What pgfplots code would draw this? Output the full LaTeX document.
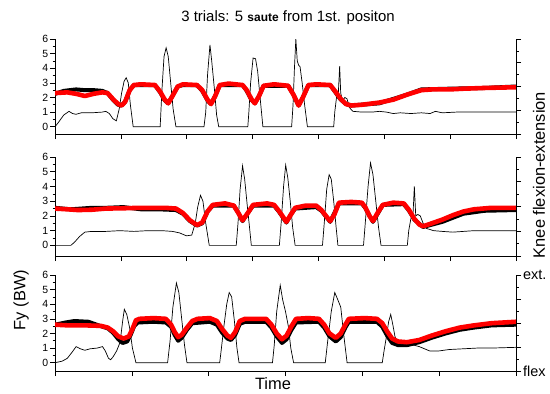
\documentclass[border=0pt]{standalone}
\usepackage{fontspec}
\setmainfont{Liberation Sans}
\usepackage{pgfplots}
\pgfplotsset{compat=1.18}

\pgfplotstableread{
x y
155 0
165 0.3
180 0.8
195 1.05
205 0.9
215 0.85
230 0.95
260 0.95
290 1.0
300 1.05
310 0.9
320 0.55
330 0.4
338 1.2
345 2.3
352 3.1
358 3.35
364 3.0
370 1.5
378 0
455 0
460 2.5
466 4.8
472 5.4
478 4.8
485 3.0
492 1.2
500 0
580 0
585 1.0
590 3.5
597 5.6
602 4.5
610 2.5
616 0.8
622 0
705 0
708 1.0
713 3.0
720 4.7
727 4.65
733 3.8
740 2.0
748 0
830 0
834 1.5
838 4.0
842 6.0
846 4.5
850 4.2
854 4.1
860 3.0
867 1.5
875 0
950 0
953 1.0
958 2.0
963 2.2
967 4.15
970 2.3
975 1.8
982 2.0
988 1.9
995 1.3
1005 1.05
1030 1.0
1060 1.0
1080 1.05
1100 1.0
1120 0.9
1140 0.95
1170 0.9
1200 0.95
1225 0.9
1240 1.05
1260 0.95
1300 1.0
1350 1.0
1400 1.0
1470 1.0
}\fyA

\pgfplotstableread{
x y
155 2.3
190 2.35
215 2.25
240 2.1
265 2.25
290 2.35
305 2.3
320 1.9
335 1.55
345 1.45
355 1.7
368 2.5
380 2.85
400 2.9
440 2.85
455 2.4
468 1.85
478 1.6
490 2.1
505 2.75
520 2.9
560 2.85
575 2.5
590 1.85
600 1.55
612 2.1
625 2.85
650 2.95
690 2.85
702 2.5
715 1.9
725 1.6
737 2.1
750 2.8
780 2.9
820 2.8
835 2.2
850 1.45
862 2.0
878 2.85
900 2.9
940 2.85
955 2.4
970 1.9
985 1.55
1000 1.45
1030 1.5
1080 1.65
1120 1.85
1160 2.2
1200 2.5
1230 2.55
1280 2.55
1320 2.6
1380 2.65
1470 2.7
}\redA

\pgfplotstableread{
x y
155 2.25
180 2.45
215 2.55
240 2.5
265 2.5
290 2.45
305 2.3
320 1.85
335 1.5
345 1.45
355 1.7
368 2.5
380 2.85
440 2.85
455 2.35
468 1.8
478 1.6
490 2.1
505 2.75
520 2.85
560 2.85
575 2.45
590 1.8
600 1.55
612 2.1
625 2.85
690 2.85
702 2.45
715 1.85
725 1.6
737 2.1
750 2.8
820 2.8
835 2.2
850 1.45
862 2.0
878 2.85
940 2.85
955 2.35
970 1.85
985 1.55
1000 1.45
1080 1.6
1160 2.2
1200 2.55
1280 2.6
1380 2.65
1470 2.75
}\blkA

\pgfplotstableread{
x y
155 0
200 0
210 0.2
225 0.6
240 0.9
260 0.95
300 0.95
340 1.0
380 0.95
420 1.0
460 1.0
490 0.95
510 0.85
530 0.65
545 0.7
555 1.5
562 2.6
570 3.4
577 3.0
585 1.5
595 0
672 0
677 1.5
683 3.8
690 5.4
696 4.5
703 2.8
710 1.2
715 0
795 0
800 1.5
807 4.0
813 5.45
819 4.6
826 3.0
833 1.2
840 0
918 0
923 1.5
930 3.8
937 4.8
943 4.5
950 3.0
957 1.2
962 0
1035 0
1040 1.5
1048 4.0
1055 5.6
1062 4.8
1070 3.0
1078 1.2
1085 0
1160 0
1164 1.0
1170 1.8
1176 2.0
1180 4.0
1184 2.0
1190 2.1
1197 2.0
1205 1.5
1215 1.15
1235 1.0
1260 0.95
1290 0.9
1320 0.95
1350 1.0
1400 1.0
1470 1.0
}\fyB

\pgfplotstableread{
x y
155 2.5
190 2.45
220 2.4
260 2.42
300 2.5
350 2.52
400 2.55
470 2.55
500 2.5
520 2.2
540 1.7
560 1.38
575 1.55
590 2.3
605 2.75
640 2.85
665 2.7
678 2.2
690 1.7
705 2.2
720 2.75
760 2.85
780 2.75
795 2.3
815 1.6
828 2.1
840 2.55
870 2.7
900 2.7
915 2.4
928 2.0
940 1.65
952 2.1
965 2.9
1000 2.95
1030 2.9
1040 2.6
1052 2.0
1062 1.65
1075 2.2
1090 2.75
1120 2.9
1150 2.85
1165 2.4
1180 1.8
1195 1.4
1205 1.3
1230 1.5
1260 1.75
1290 2.05
1320 2.3
1350 2.45
1400 2.55
1470 2.55
}\redB

\pgfplotstableread{
x y
155 2.55
200 2.45
260 2.55
300 2.55
350 2.6
400 2.45
450 2.45
500 2.4
520 2.15
540 1.65
560 1.35
575 1.5
590 2.3
605 2.7
665 2.7
678 2.2
690 1.65
705 2.2
720 2.7
780 2.7
795 2.25
815 1.55
828 2.1
840 2.5
900 2.6
915 2.35
940 1.6
965 2.85
1030 2.85
1040 2.55
1062 1.6
1090 2.75
1150 2.8
1165 2.35
1180 1.75
1205 1.25
1260 1.6
1320 2.15
1380 2.35
1470 2.4
}\blkB

\pgfplotstableread{
x y
160 0
180 0.1
195 0.3
208 0.7
220 1.1
232 0.95
245 0.85
260 0.95
280 1.0
295 1.1
303 0.8
312 0.3
318 0.2
325 0.4
335 0.8
345 1.4
352 2.8
357 3.65
364 3.3
372 2.4
380 1.0
390 0
480 0
487 1.5
495 3.8
505 5.45
512 4.8
520 3.0
528 1.2
535 0
628 0
632 0.8
640 2.5
648 4.0
655 4.8
662 4.5
670 2.8
677 1.0
683 0
778 0
783 1.2
790 3.5
800 5.3
807 4.3
815 3.5
823 2.5
830 1.0
838 0
928 0
935 1.5
945 3.5
955 4.8
962 4.4
972 3.8
980 2.0
986 0.8
990 0
1090 0
1095 0.8
1102 1.8
1108 2.8
1114 3.3
1120 2.6
1126 1.8
1133 1.3
1145 1.2
1180 1.2
1195 1.1
1210 0.95
1225 0.8
1250 0.8
1280 0.9
1320 0.95
1360 1.0
1400 1.0
1470 1.05
}\fyC

\pgfplotstableread{
x y
160 2.6
200 2.55
250 2.55
290 2.52
310 2.4
325 2.15
340 1.8
355 1.65
370 1.8
380 2.3
390 2.9
400 3.0
440 3.05
475 3.0
490 2.6
500 2.1
510 1.75
520 1.9
535 2.4
550 2.85
565 3.0
600 3.05
620 2.85
635 2.3
650 1.85
660 1.7
672 2.1
685 2.85
700 3.0
760 3.0
775 2.6
790 2.0
805 1.6
818 1.85
832 2.5
845 3.0
880 3.05
910 3.0
925 2.6
940 2.0
958 1.7
972 2.0
985 2.6
995 3.0
1040 3.05
1075 3.0
1090 2.7
1105 2.1
1118 1.65
1135 1.45
1160 1.4
1195 1.55
1230 1.85
1270 2.15
1310 2.4
1350 2.55
1400 2.7
1470 2.8
}\redC

\pgfplotstableread{
x y
160 2.6
190 2.75
215 2.85
255 2.8
290 2.5
310 2.35
325 2.05
340 1.6
352 1.35
365 1.45
375 1.9
385 2.5
395 2.75
440 2.8
475 2.75
490 2.45
500 1.9
510 1.5
520 1.7
535 2.25
550 2.7
600 2.8
620 2.6
635 2.05
650 1.65
660 1.55
672 1.9
685 2.65
700 2.8
760 2.8
775 2.4
790 1.8
805 1.35
818 1.6
832 2.25
845 2.75
910 2.8
925 2.4
940 1.8
958 1.45
972 1.75
985 2.4
995 2.8
1075 2.8
1090 2.45
1105 1.8
1118 1.35
1135 1.2
1160 1.2
1195 1.4
1230 1.7
1270 2.0
1310 2.25
1350 2.4
1400 2.55
1470 2.6
}\blkC

\pgfplotsset{
  panel/.style={
    scale only axis, width=461bp, anchor=south west,
    axis x line=bottom, axis y line=left,
    x axis line style={-}, y axis line style={-},
    axis line style={line width=0.6bp},
    tick align=outside, major tick length=5bp, minor tick length=2.5bp,
    every tick/.style={line width=0.6bp, black},
    ymax=6, ytick={0,...,6}, minor y tick num=1,
    xticklabels={},
    yticklabel style={font=\fontsize{10.5}{12}\selectfont, inner sep=1.5bp},
    /pgf/number format/assume math mode=true,
  },
  rpanel/.style={
    scale only axis, width=461bp, anchor=south west,
    axis x line=none, axis y line=right,
    y axis line style={-, line width=0.6bp},
    tick align=outside, major tick length=5bp, minor tick length=2.5bp,
    every tick/.style={line width=0.6bp, black},
    xmin=0, xmax=1, ymin=0, ymax=4, ytick={0,...,4}, minor y tick num=1,
    yticklabels={},
  },
  fy/.style={black, line width=0.7bp},
  bk/.style={black, line width=4bp, line join=round},
  rd/.style={red, line width=4.6bp, line join=round},
}

\begin{document}
\begin{tikzpicture}
\path[use as bounding box] (0,0) rectangle (550bp,-394bp);

% Panel 1
\begin{axis}[panel, at={(55bp,-134bp)}, height=95bp, ymin=-0.5,
  xmin=155, xmax=1470,
  xtick={155,342.857,530.714,718.571,906.429,1094.286,1282.143,1470}]
\addplot[fy] table[x=x,y=y] {\fyA};
\addplot[bk] table[x=x,y=y] {\blkA};
\addplot[rd] table[x=x,y=y] {\redA};
\end{axis}
\begin{axis}[rpanel, at={(55bp,-134bp)}, height=95bp]
\end{axis}

% Panel 2
\begin{axis}[panel, at={(55bp,-256bp)}, height=99bp, ymin=-0.72,
  xmin=155, xmax=1470,
  xtick={155,342.857,530.714,718.571,906.429,1094.286,1282.143,1470}]
\addplot[fy] table[x=x,y=y] {\fyB};
\addplot[bk] table[x=x,y=y] {\blkB};
\addplot[rd] table[x=x,y=y] {\redB};
\end{axis}
\begin{axis}[rpanel, at={(55bp,-256bp)}, height=99bp]
\end{axis}

% Panel 3
\begin{axis}[panel, at={(55bp,-371bp)}, height=96bp, ymin=-0.57,
  xmin=160, xmax=1470,
  xtick={160,378.333,596.667,815,1033.333,1251.667,1470}]
\addplot[fy] table[x=x,y=y] {\fyC};
\addplot[bk] table[x=x,y=y] {\blkC};
\addplot[rd] table[x=x,y=y] {\redC};
\end{axis}
\begin{axis}[rpanel, at={(55bp,-371bp)}, height=96bp,
  yticklabels={flex,{},{},{},ext.},
  yticklabel style={font=\fontsize{14.5}{16}\selectfont, inner sep=2bp}]
\end{axis}

% Texts
\node at (288bp,-18bp) {\fontsize{15}{18}\selectfont 3 trials: 5 {\fontsize{12}{14}\selectfont\bfseries saute} from 1st. positon};
\node[rotate=90] at (539bp,-175bp) {\fontsize{16.5}{19}\selectfont Knee flexion-extension};
\node[rotate=90] at (21bp,-300bp) {\fontsize{16.5}{19}\selectfont Fy (BW)};
\node at (273bp,-384bp) {\fontsize{16.5}{19}\selectfont Time};
\end{tikzpicture}
\end{document}
